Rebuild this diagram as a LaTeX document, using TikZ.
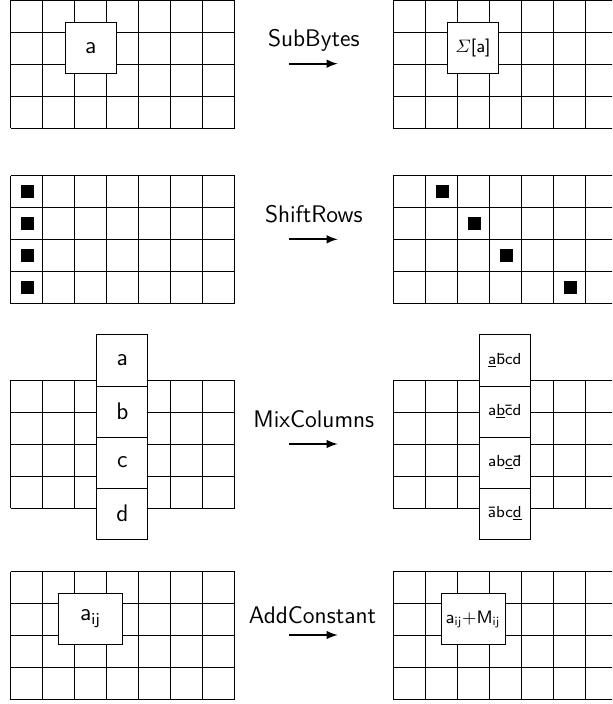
\documentclass[tikz,border=0pt]{standalone}
\usepackage{amsmath,amssymb}
\usepackage{tikz}
\usetikzlibrary{arrows}

\begin{document}
\begin{tikzpicture}[x=0.5pt, y=-0.5pt, line width=0.5pt,
    cellbox/.style={rectangle, draw, fill=white, inner sep=0pt, minimum size=25.5pt, font=\large\sffamily},
    widebox/.style={cellbox, minimum width=32pt},
    smallbox/.style={cellbox, font=\footnotesize\sffamily},
    blob/.style={rectangle, fill=black, inner sep=0pt, minimum size=6.5pt},
    label/.style={font=\large\sffamily, anchor=base, inner sep=0pt},
    flow/.style={draw, ->, >=latex, line width=0.9pt}]

    \useasboundingbox (0,0) rectangle (612,704);
    \clip (0,0) rectangle (612,704);

    % Grids (4 rows x 7 columns)
    \foreach \gx/\gy in {10.7/0.3, 393.3/0.3, 10.7/175.7, 393.3/175.7,
                         10.7/380, 393.3/380, 10.7/571.7, 393.3/571.7} {
        \foreach \i in {0,...,7}
            \draw ({\gx+32*\i}, \gy) -- ({\gx+32*\i}, {\gy+128});
        \foreach \j in {0,...,4}
            \draw (\gx, {\gy+32*\j}) -- ({\gx+224}, {\gy+32*\j});
    }

    % 1. SubBytes
    \node [cellbox] (subIn) at (90.7,48.3) {a};
    \node [smallbox, font=\small\sffamily] (subOut) at (473,48.3) {$\varSigma$[a]};
    \node [label] (subLbl) at (313.8,46.7) {SubBytes};
    \coordinate (subS) at (289.3,63.7);
    \coordinate (subE) at (337.7,63.7);
    \draw [flow] (subS) -- (subE);

    % 2. ShiftRows
    \foreach \k in {0,...,3}
        \node [blob] (shiftIn\k) at (27.7, {191.7+32*\k}) {};
    \foreach \k/\c in {0/1, 1/2, 2/3, 3/5}
        \node [blob] (shiftOut\k) at ({410.3+32*\c}, {191.7+32*\k}) {};
    \node [label] (shiftLbl) at (313.8,222.7) {ShiftRows};
    \coordinate (shiftS) at (289.3,239.3);
    \coordinate (shiftE) at (337.7,239.3);
    \draw [flow] (shiftS) -- (shiftE);

    % 3. MixColumns
    \foreach \t [count=\k from 0] in {a,b,c,d}
        \node [cellbox] (mixIn\t) at (122.3, {360.5+51*\k}) {\t};
    \foreach \t [count=\k from 0] in {{\underline{a}\=bcd}, {a\underline{b}\=cd},
                                      {ab\underline{c}\=d}, {\=abc\underline{d}}}
        \node [smallbox] (mixOut\k) at (504.8, {360.5+51*\k}) {\t};
    \node [label] (mixLbl) at (313.8,427.3) {MixColumns};
    \coordinate (mixS) at (289.3,444);
    \coordinate (mixE) at (337.7,444);
    \draw [flow] (mixS) -- (mixE);

    % 4. AddConstant
    \node [widebox] (addIn) at (90.5,618.7) {a$_{\mathsf{ij}}$};
    \node [widebox, font=\small\sffamily] (addOut) at (473,619) {$\mathsf{a}_{\mathsf{ij}}{+}\mathsf{M}_{\mathsf{ij}}$};
    \node [label] (addLbl) at (312.5,623.3) {AddConstant};
    \coordinate (addS) at (289.3,635);
    \coordinate (addE) at (337.7,635);
    \draw [flow] (addS) -- (addE);

\end{tikzpicture}
\end{document}
